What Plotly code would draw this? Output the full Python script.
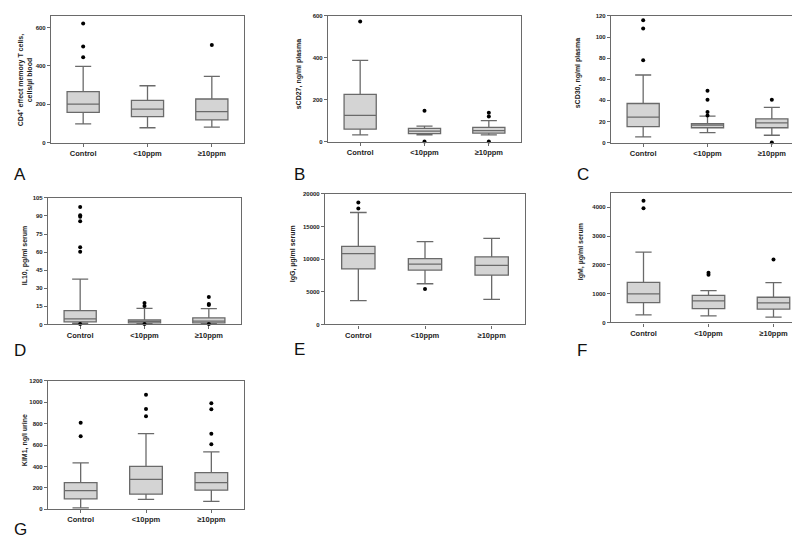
import plotly.graph_objects as go

W, H = 800, 539
categories = ["Control", "<10ppm", "≥10ppm"]

# Panel A: CD4+ effector memory T cells
a_low = [97, 77, 80]
a_q1 = [157, 135, 118]
a_med = [200, 174, 161]
a_q3 = [265, 220, 227]
a_high = [397, 296, 345]
a_out_cat = ["Control", "Control", "Control", "≥10ppm"]
a_out_val = [444, 501, 620, 509]

# Panel B: sCD27
b_low = [32, 32, 32]
b_q1 = [59, 38, 40]
b_med = [125, 50, 52]
b_q3 = [225, 63, 68]
b_high = [388, 74, 100]
b_out_cat = ["Control", "<10ppm", "<10ppm", "≥10ppm", "≥10ppm", "≥10ppm"]
b_out_val = [573, 147, 0, 138, 119, 0]

# Panel C: sCD30
c_low = [5.3, 9.4, 6.9]
c_q1 = [15, 14, 14]
c_med = [24, 16.5, 18.7]
c_q3 = [37, 18, 22.5]
c_high = [64, 25, 33.4]
c_out_cat = ["Control", "Control", "Control", "<10ppm", "<10ppm", "<10ppm", "<10ppm", "≥10ppm", "≥10ppm"]
c_out_val = [78, 108, 116, 49, 40.6, 29, 25.6, 40.6, 0]

# Panel D: IL10
d_low = [0.8, 0.8, 0.5]
d_q1 = [2.2, 1.4, 1.4]
d_med = [4.7, 2.5, 2.7]
d_q3 = [11.5, 3.8, 5.5]
d_high = [37.6, 13.3, 13.1]
d_out_cat = ["Control"] * 7 + ["<10ppm"] * 3 + ["≥10ppm"] * 4
d_out_val = [97.5, 90.7, 89.3, 85.7, 64, 60.4, 0.3, 17.8, 15.3, 0.3, 22.7, 17, 16.2, 0.3]

# Panel E: IgG
e_low = [3650, 6240, 3860]
e_q1 = [8530, 8330, 7560]
e_med = [10860, 9240, 9040]
e_q3 = [11980, 10100, 10360]
e_high = [17160, 12690, 13200]
e_out_cat = ["Control", "Control", "<10ppm"]
e_out_val = [17770, 18680, 5430]

# Panel F: IgM
f_low = [265, 230, 184]
f_q1 = [692, 484, 461]
f_med = [991, 750, 680]
f_q3 = [1395, 945, 876]
f_high = [2444, 1107, 1383]
f_out_cat = ["Control", "Control", "<10ppm", "<10ppm", "≥10ppm"]
f_out_val = [3965, 4230, 1729, 1660, 2190]

# Panel G: KIM1
g_low = [15, 93, 74]
g_q1 = [99, 142, 179]
g_med = [176, 281, 250]
g_q3 = [250, 401, 343]
g_high = [435, 707, 537]
g_out_cat = ["Control", "Control", "<10ppm", "<10ppm", "<10ppm", "≥10ppm", "≥10ppm", "≥10ppm", "≥10ppm"]
g_out_val = [682, 809, 870, 938, 1071, 608, 707, 935, 991]

y_titles = [
    "CD4<sup>+</sup> effect memory T cells,<br>cells/µl blood",
    "sCD27, ng/ml plasma",
    "sCD30, ng/ml plasma",
    "IL10, pg/ml serum",
    "IgG, µg/ml serum",
    "IgM, µg/ml serum",
    "KIM1, ng/l urine",
]
panel_letters = ["A", "B", "C", "D", "E", "F", "G"]

panels = [
    (a_low, a_q1, a_med, a_q3, a_high, a_out_cat, a_out_val, [0, 660], [0, 200, 400, 600]),
    (b_low, b_q1, b_med, b_q3, b_high, b_out_cat, b_out_val, [0, 600], [0, 200, 400, 600]),
    (c_low, c_q1, c_med, c_q3, c_high, c_out_cat, c_out_val, [0, 120], [0, 20, 40, 60, 80, 100, 120]),
    (d_low, d_q1, d_med, d_q3, d_high, d_out_cat, d_out_val, [0, 105], [0, 15, 30, 45, 60, 75, 90, 105]),
    (e_low, e_q1, e_med, e_q3, e_high, e_out_cat, e_out_val, [0, 20000], [0, 5000, 10000, 15000, 20000]),
    (f_low, f_q1, f_med, f_q3, f_high, f_out_cat, f_out_val, [0, 4500], [0, 1000, 2000, 3000, 4000]),
    (g_low, g_q1, g_med, g_q3, g_high, g_out_cat, g_out_val, [0, 1200], [0, 200, 400, 600, 800, 1000, 1200]),
]

# plot-area pixel boxes (left, right, top, bottom)
boxes = [
    (43, 236, 5, 133),
    (320, 513, 5, 132),
    (603, 796, 5, 133),
    (40, 233, 189, 317),
    (317, 517, 185, 317),
    (603, 798, 184, 315),
    (40, 236, 374, 504),
]
# y-title centers (x, y) in pixels
ytitle_pos = [(17, 70), (291, 64), (570, 63), (17, 247), (285, 246), (573, 244), (17, 434)]
# panel letter positions (x-left, y-center)
letter_pos = [(5, 165), (285, 165), (568, 165), (5, 343), (285, 342), (568, 343), (5, 524)]

LINE = "#6a6a6a"
FILL = "#d4d4d4"
FONT = "Liberation Sans, Arial, sans-serif"

fig = go.Figure()
layout = dict(
    width=W, height=H,
    margin=dict(l=0, r=0, t=0, b=0),
    paper_bgcolor="white", plot_bgcolor="white",
    showlegend=False,
    font=dict(family=FONT, color="#222222"),
    annotations=[],
)

for i, (lo, q1, med, q3, hi, oc, ov, yr, tv) in enumerate(panels):
    n = i + 1
    xa = "x" if n == 1 else f"x{n}"
    ya = "y" if n == 1 else f"y{n}"
    fig.add_trace(go.Box(
        x=categories, q1=q1, median=med, q3=q3, lowerfence=lo, upperfence=hi,
        xaxis=xa, yaxis=ya, width=0.5, whiskerwidth=0.5,
        fillcolor=FILL, line=dict(color=LINE, width=1.3),
        boxpoints=False, hoverinfo="skip",
    ))
    fig.add_trace(go.Scatter(
        x=oc, y=ov, mode="markers", xaxis=xa, yaxis=ya,
        marker=dict(color="black", size=4), cliponaxis=False, hoverinfo="skip",
    ))
    l, r, t, b = boxes[i]
    xkey = "xaxis" if n == 1 else f"xaxis{n}"
    ykey = "yaxis" if n == 1 else f"yaxis{n}"
    layout[xkey] = dict(
        domain=[l / W, r / W], anchor=ya, type="category",
        categoryorder="array", categoryarray=categories, range=[-0.5, 2.5],
        showline=True, mirror=True, linecolor=LINE, linewidth=1.2,
        ticks="outside", ticklen=3, tickcolor=LINE, tickwidth=1,
        showgrid=False, zeroline=False,
        tickfont=dict(size=7.5, family=FONT, weight="bold", color="#222222"),
    )
    layout[ykey] = dict(
        domain=[1 - b / H, 1 - t / H], anchor=xa, range=yr,
        tickvals=tv, ticktext=[str(v) for v in tv],
        showline=True, mirror=True, linecolor=LINE, linewidth=1.2,
        ticks="outside", ticklen=3, tickcolor=LINE, tickwidth=1,
        showgrid=False, zeroline=False,
        tickfont=dict(size=6, family=FONT, weight="bold", color="#222222"),
    )
    tx, ty = ytitle_pos[i]
    layout["annotations"].append(dict(
        text=y_titles[i], xref="paper", yref="paper", x=tx / W, y=1 - ty / H,
        xanchor="center", yanchor="middle", textangle=-90, showarrow=False,
        font=dict(size=7, family=FONT, weight="bold", color="#222222"),
    ))
    lx, ly = letter_pos[i]
    layout["annotations"].append(dict(
        text=panel_letters[i], xref="paper", yref="paper", x=lx / W, y=1 - ly / H,
        xanchor="left", yanchor="middle", showarrow=False, borderpad=0,
        font=dict(size=17, family=FONT, color="#111111"),
    ))

fig.update_layout(**layout)
fig.write_html("out.html")
